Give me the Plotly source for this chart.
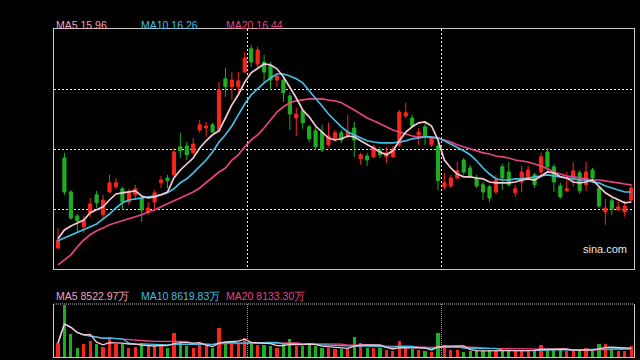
import plotly.graph_objects as go
import pandas as pd

# ---- data (price units) ----
opens = [14.80,17.05,16.20,15.60,15.33,15.68,16.13,15.63,16.20,16.33,
         16.28,15.95,16.13,16.05,15.68,15.95,16.43,16.55,16.63,17.33,
         17.35,17.18,17.75,17.80,17.88,17.75,19.03,18.83,18.83,19.20,
         19.78,19.40,19.45,19.35,19.00,19.00,18.60,18.05,18.23,17.83,
         17.73,17.70,17.38,17.50,17.68,17.58,17.80,17.03,17.10,17.08,
         17.23,17.08,17.08,17.38,18.10,18.05,17.63,17.83,17.38,17.35,
         16.33,16.35,16.55,17.00,16.80,16.55,16.38,16.33,16.20,16.83,
         16.70,16.18,16.45,16.58,16.63,16.70,17.20,16.83,16.35,16.23,
         16.55,16.68,16.38,16.75,16.30,15.70,15.98,15.75,15.70,16.00]
closes = [15.00,16.20,15.55,15.48,15.50,15.90,15.93,16.00,16.43,16.43,
          15.95,16.18,16.28,15.75,15.80,16.18,16.50,16.48,17.20,17.23,
          17.13,17.40,17.88,17.85,17.70,18.75,18.83,19.00,18.98,19.55,
          19.45,19.75,19.20,19.00,19.10,18.68,18.15,18.15,17.93,17.53,
          17.33,17.25,17.60,17.68,17.50,17.70,17.50,17.13,17.00,17.33,
          17.13,17.18,17.25,18.20,18.18,17.85,17.70,17.58,17.55,16.48,
          16.43,16.55,16.73,16.70,16.60,16.35,16.20,16.05,16.50,16.55,
          16.38,16.28,16.70,16.75,16.38,17.08,16.83,16.45,16.08,16.28,
          16.73,16.23,16.70,16.55,15.85,15.80,15.78,15.83,15.85,16.30]
highs = [15.30,17.18,16.25,15.65,15.60,16.05,16.23,16.13,16.63,16.55,
         16.33,16.28,16.38,16.10,15.95,16.25,16.60,16.63,17.30,17.68,
         17.45,17.55,18.00,17.95,17.93,18.95,19.30,19.20,19.20,19.70,
         19.88,19.83,19.63,19.45,19.18,19.10,18.68,18.30,18.30,17.88,
         17.83,17.88,17.93,17.75,17.75,18.13,17.95,17.18,17.18,17.38,
         17.33,17.33,17.35,18.25,18.43,18.13,17.80,17.93,17.58,17.43,
         16.68,16.63,16.95,17.05,16.88,16.63,16.45,16.38,16.63,16.90,
         16.95,16.38,16.85,16.85,16.68,17.18,17.30,16.90,16.43,16.70,
         16.95,16.75,16.95,16.80,16.35,16.03,16.05,15.95,15.98,16.40]
lows = [14.78,16.13,15.50,15.20,15.18,15.58,15.80,15.50,16.18,16.28,
        15.75,15.88,16.00,15.45,15.63,15.75,16.30,16.30,16.58,17.05,
        17.00,17.13,17.68,17.58,17.68,17.70,18.58,18.50,18.63,19.18,
        19.33,19.33,18.95,18.75,18.83,18.45,17.75,17.60,17.78,17.45,
        17.25,17.20,17.33,17.45,17.43,17.55,17.08,16.88,16.85,17.05,
        17.05,16.93,17.05,17.33,18.05,17.80,17.38,17.38,17.33,16.25,
        16.25,16.30,16.53,16.63,16.55,16.30,16.00,15.95,16.15,16.25,
        16.33,16.08,16.20,16.50,16.30,16.55,16.70,16.20,16.03,16.20,
        16.33,16.15,16.23,16.43,15.80,15.38,15.63,15.73,15.58,15.93]

ma5 = [15.03,15.25,15.35,15.43,15.50,15.68,15.75,15.83,16.00,16.15,
       16.18,16.20,16.23,16.10,16.05,16.08,16.13,16.20,16.55,16.75,
       16.90,17.05,17.30,17.48,17.63,17.73,18.05,18.38,18.63,18.95,
       19.18,19.30,19.40,19.38,19.28,19.08,18.83,18.55,18.25,18.08,
       17.85,17.70,17.55,17.50,17.53,17.60,17.58,17.48,17.38,17.30,
       17.20,17.13,17.23,17.48,17.70,17.83,17.93,17.95,17.85,17.50,
       17.00,16.80,16.65,16.58,16.58,16.55,16.53,16.45,16.43,16.43,
       16.43,16.45,16.50,16.53,16.50,16.60,16.70,16.68,16.58,16.55,
       16.45,16.43,16.45,16.50,16.35,16.18,16.08,16.00,15.93,15.95]
ma10 = [14.98,15.05,15.13,15.18,15.25,15.33,15.40,15.53,15.65,15.80,
        15.93,16.00,16.03,16.05,16.08,16.10,16.13,16.18,16.28,16.43,
        16.53,16.68,16.83,17.00,17.20,17.45,17.63,17.85,18.13,18.40,
        18.63,18.78,18.93,19.05,19.15,19.15,19.10,19.03,18.93,18.73,
        18.55,18.35,18.15,17.98,17.83,17.70,17.63,17.55,17.48,17.45,
        17.43,17.43,17.43,17.45,17.48,17.53,17.55,17.58,17.58,17.55,
        17.48,17.40,17.33,17.23,17.13,16.98,16.80,16.65,16.53,16.50,
        16.50,16.53,16.53,16.55,16.58,16.60,16.63,16.60,16.58,16.55,
        16.53,16.50,16.50,16.45,16.43,16.35,16.30,16.25,16.20,16.20]
ma20 = [14.38,14.50,14.63,14.83,15.00,15.13,15.23,15.30,15.38,15.43,
        15.48,15.53,15.58,15.63,15.70,15.75,15.83,15.90,15.98,16.05,
        16.13,16.20,16.30,16.43,16.58,16.70,16.80,17.00,17.13,17.33,
        17.50,17.63,17.80,18.00,18.20,18.33,18.43,18.48,18.50,18.53,
        18.53,18.53,18.50,18.48,18.43,18.35,18.25,18.15,18.05,17.98,
        17.90,17.83,17.75,17.70,17.65,17.60,17.58,17.58,17.55,17.55,
        17.50,17.45,17.38,17.33,17.28,17.23,17.18,17.15,17.10,17.08,
        17.05,17.00,16.98,16.95,16.90,16.85,16.78,16.70,16.65,16.60,
        16.58,16.55,16.53,16.50,16.50,16.48,16.45,16.43,16.40,16.38]

# volume, in 万 (10k shares)
volume = [11900,44200,19550,7650,11050,13600,11050,8500,17000,11050,
          11050,7650,8500,11900,9350,9350,10200,7650,20400,13600,
          9350,7650,10200,9350,7650,24650,11900,11900,11050,16150,
          11050,10200,10200,9350,7650,11050,15300,9350,9350,10200,
          9350,7650,7650,6800,6800,7650,17000,11900,7650,7650,
          7650,5950,5100,13600,7650,6800,5950,5100,4250,20400,
          10200,5950,5950,4250,5100,5950,5100,5950,5100,5100,
          5950,5100,5100,5950,5950,10200,5950,5950,6800,5100,
          5100,5950,7650,5100,11050,11050,6800,5100,5100,9350]

price_legend = [("MA5", "15.96"), ("MA10", "16.26"), ("MA20", "16.44")]
vol_legend = [("MA5", "8522.97万"), ("MA10", "8619.83万"), ("MA20", "8133.30万")]

idx = list(range(len(closes)))

RED = "#f7261c"
GREEN = "#1eae25"
C_MA5 = "#f5c9d4"
C_MA10 = "#45bde3"
C_MA20 = "#e6457e"
T_MA5 = "#f3a3bb"
FRAME = "#c8c8c8"
GRID = "#f0f0f0"

vol_s = pd.Series(volume, dtype=float)
vma5 = vol_s.rolling(5, min_periods=1).mean()
vma10 = vol_s.rolling(10, min_periods=1).mean()
vma20 = vol_s.rolling(20, min_periods=1).mean()
vol_colors = [RED if c >= o else GREEN for o, c in zip(opens, closes)]

fig = go.Figure()
fig.add_trace(go.Candlestick(
    x=idx, open=opens, high=highs, low=lows, close=closes,
    increasing=dict(line=dict(color=RED, width=1), fillcolor=RED),
    decreasing=dict(line=dict(color=GREEN, width=1), fillcolor=GREEN),
    whiskerwidth=0, xaxis="x", yaxis="y", hoverinfo="skip"))
for ser, col in [(ma20, C_MA20), (ma10, C_MA10), (ma5, C_MA5)]:
    fig.add_trace(go.Scatter(x=idx, y=ser, mode="lines",
                             line=dict(color=col, width=1.7),
                             xaxis="x", yaxis="y", hoverinfo="skip"))

fig.add_trace(go.Bar(x=idx, y=volume, marker=dict(color=vol_colors, line=dict(width=0)),
                     width=0.5, xaxis="x2", yaxis="y2", hoverinfo="skip"))
for ser, col in [(vma20, C_MA20), (vma10, C_MA10), (vma5, C_MA5)]:
    fig.add_trace(go.Scatter(x=idx, y=ser, mode="lines",
                             line=dict(color=col, width=1.3),
                             xaxis="x2", yaxis="y2", hoverinfo="skip"))

W, H = 640, 360
L, R, T, B = 54, 6, 29, 3
ph = H - T - B
def py(p):  # pixel y -> paper y
    return (H - B - p) / ph
def px(p):
    return (p - L) / (W - L - R)

xr = [-0.62, 89.44]
fig.update_layout(
    width=W, height=H, margin=dict(l=L, r=R, t=T, b=B),
    paper_bgcolor="#000000", plot_bgcolor="#000000",
    showlegend=False, bargap=0,
    xaxis=dict(domain=[0, 1], range=xr, rangeslider=dict(visible=False),
               tickvals=[29.5, 59.5], showticklabels=False, ticks="",
               showgrid=True, gridcolor=GRID, griddash="2px,2px", gridwidth=1,
               zeroline=False, showline=True, mirror=True, linecolor=FRAME, linewidth=1,
               anchor="y"),
    yaxis=dict(domain=[py(269), 1], range=[14.275, 20.275],
               tickvals=[15.775, 17.275, 18.775], showticklabels=False, ticks="",
               showgrid=True, gridcolor=GRID, griddash="2px,2px", gridwidth=1.3,
               zeroline=False, showline=True, mirror=True, linecolor=FRAME, linewidth=1,
               anchor="x"),
    xaxis2=dict(domain=[0, 1], range=xr, tickvals=[29.5, 59.5], showticklabels=False,
                ticks="", showgrid=True, gridcolor="#a0a0a0", griddash="1px,1px",
                zeroline=False, showline=True, mirror=False, linecolor=FRAME,
                anchor="y2"),
    yaxis2=dict(domain=[0, py(304)], range=[0, 45050], showticklabels=False, ticks="",
                showgrid=False, zeroline=False, showline=True, mirror=True,
                linecolor=FRAME, anchor="x2"),
)
# dotted top border of volume panel
fig.add_shape(type="line", xref="paper", yref="paper", x0=0, x1=1,
              y0=py(304), y1=py(304), line=dict(color="#c0c0c0", width=1, dash="1px,1px"))

font = "Liberation Sans, Arial, sans-serif"
lx = [55, 140, 225]
cols = [T_MA5, C_MA10, C_MA20]
for (name, val), x0, c in zip(price_legend, lx, cols):
    fig.add_annotation(text=f"{name} {val}", x=px(x0), y=py(24.5), xref="paper", yref="paper",
                       xanchor="left", yanchor="middle", showarrow=False,
                       font=dict(family=font, size=10.5, color=c), borderpad=0)
for (name, val), x0, c in zip(vol_legend, lx, cols):
    fig.add_annotation(text=f"{name} {val}", x=px(x0), y=py(295.5), xref="paper", yref="paper",
                       xanchor="left", yanchor="middle", showarrow=False,
                       font=dict(family=font, size=10.5, color=c), borderpad=0)
fig.add_annotation(text="sina.com", x=px(582), y=py(249), xref="paper", yref="paper",
                   xanchor="left", yanchor="middle", showarrow=False,
                   font=dict(family=font, size=11, color="#e8e8e8"), borderpad=0)

fig.write_html("out.html")
